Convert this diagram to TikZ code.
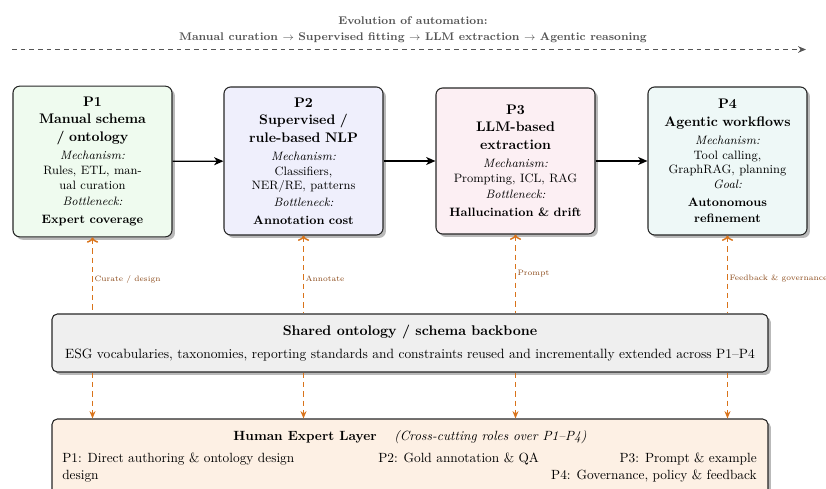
\documentclass[tikz,border=0pt]{standalone}
\usetikzlibrary{arrows.meta,shadows}

\definecolor{phaseA}{HTML}{EFFBEF}
\definecolor{phaseB}{HTML}{EFEFFC}
\definecolor{phaseC}{HTML}{FCEFF3}
\definecolor{phaseD}{HTML}{EEF8F7}
\definecolor{backbone}{HTML}{EFEFEF}
\definecolor{humanfill}{HTML}{FDF0E4}
\definecolor{humanline}{HTML}{D9731A}
\definecolor{humantext}{HTML}{8B4A1A}
\definecolor{evogray}{HTML}{555555}

% font switches used inside the phase boxes
\newcommand\ttlf{\fontsize{10.4}{13.1}\selectfont\bfseries\upshape}
\newcommand\bodyf{\fontsize{9.1}{10.9}\selectfont\mdseries\upshape}
\newcommand\mechf{\fontsize{9.1}{10.9}\selectfont\mdseries\itshape}
\newcommand\botf{\fontsize{9.1}{12}\selectfont\bfseries\upshape}

\begin{document}
\begin{tikzpicture}[x=0.75pt,y=-0.75pt,
  phasebox/.style={draw=black!85, line width=0.8pt, rounded corners=5pt,
    text width=113pt, inner xsep=3pt, inner ysep=2pt, align=center,
    minimum width=119.25pt,
    drop shadow={shadow xshift=2.2pt, shadow yshift=-2.2pt, fill=black!50, opacity=0.55}},
  layerbox/.style={draw=black!85, line width=0.8pt, rounded corners=4pt,
    minimum width=537pt,
    drop shadow={shadow xshift=2.2pt, shadow yshift=-2.2pt, fill=black!50, opacity=0.55}},
  flow/.style={-{Stealth[length=7pt,width=6pt,inset=2pt]}, line width=0.9pt, black},
  humanlink/.style={humanline, line width=1.1pt, dash pattern=on 4pt off 3pt,
    -{Stealth[length=5.5pt,width=4.5pt]}},
  rolelabel/.style={text=humantext, font=\fontsize{5.85}{7}\selectfont, anchor=west, inner sep=1pt},
  roletext/.style={font=\fontsize{10}{12}\selectfont, inner sep=0pt}]

\useasboundingbox (0,0) rectangle (826,489);

% evolution banner
\node[text=evogray, align=center, font=\fontsize{8.36}{12}\selectfont\bfseries] (evo) at (413,29.5)
  {Evolution of automation:\\
   Manual curation $\rightarrow$ Supervised fitting $\rightarrow$ LLM extraction $\rightarrow$ Agentic reasoning};
\coordinate (evoL) at (12,49.5);
\coordinate (evoR) at (806,49.5);
\draw[evogray, line width=0.8pt, dash pattern=on 3.5pt off 3pt, -{Stealth[length=6pt,width=5pt]}] (evoL) -- (evoR);

% four phases
\node[phasebox, fill=phaseA, minimum height=113pt] (p1) at (92.5,161.5)
  {\ttlf P1\\Manual schema\\/ ontology\\[3pt]
   \mechf Mechanism:\\\bodyf Rules, ETL, man-\\ual curation\\[1.5pt]
   \mechf Bottleneck:\\[1.5pt]\botf Expert coverage};
\node[phasebox, fill=phaseB, minimum height=111pt] (p2) at (303.5,161)
  {\ttlf P2\\Supervised /\\rule-based NLP\\[3pt]
   \mechf Mechanism:\\\bodyf Classifiers,\\NER/RE, patterns\\[1.5pt]
   \mechf Bottleneck:\\[1.5pt]\botf Annotation cost};
\node[phasebox, fill=phaseC, minimum height=109.5pt] (p3) at (515.5,161)
  {\ttlf P3\\LLM-based\\extraction\\[3pt]
   \mechf Mechanism:\\\bodyf Prompting, ICL, RAG\\[1.5pt]
   \mechf Bottleneck:\\[1.5pt]\botf Hallucination \& drift};
\node[phasebox, fill=phaseD, minimum height=111pt] (p4) at (727.5,161)
  {\ttlf P4\\Agentic workflows\\[3pt]
   \mechf Mechanism:\\\bodyf Tool calling,\\GraphRAG, planning\\
   \mechf Goal:\\[2pt]\botf Autonomous\\refinement};

\draw[flow] (p1) -- (p2);
\draw[flow] (p2) -- (p3);
\draw[flow] (p3) -- (p4);

% shared backbone
\node[layerbox, fill=backbone, minimum height=43.5pt, align=center] (shared) at (410,343)
  {{\fontsize{10.5}{13}\selectfont\bfseries Shared ontology / schema backbone}\\[5pt]
   {\fontsize{10.1}{11}\selectfont ESG vocabularies, taxonomies, reporting standards and constraints reused and incrementally extended across P1--P4}};

% human expert layer
\node[layerbox, fill=humanfill, minimum height=64.5pt] (human) at (410,462) {};
\node[font=\fontsize{10}{12}\selectfont, inner sep=0pt] (htitle) at (410,437)
  {\textbf{Human Expert Layer}\quad\ \textit{(Cross-cutting roles over P1--P4)}};
\node[roletext, anchor=west] (r1) at (62,459) {P1: Direct authoring \& ontology design};
\node[roletext, anchor=west] (r1b) at (62,476) {design};
\node[roletext, anchor=west] (r2) at (378,459) {P2: Gold annotation \& QA};
\node[roletext, anchor=east] (r3) at (757,459) {P3: Prompt \& example};
\node[roletext, anchor=east] (r4) at (757,476) {P4: Governance, policy \& feedback};

% human roles feeding each phase through the backbone
\draw[humanlink, <-] (p1.south) -- (p1.south |- shared.north) node[rolelabel, pos=0.55] {Curate / design};
\draw[humanlink, <-] (p2.south) -- (p2.south |- shared.north) node[rolelabel, pos=0.55] {Annotate};
\draw[humanlink, <-] (p3.south) -- (p3.south |- shared.north) node[rolelabel, pos=0.5] {Prompt};
\draw[humanlink, <-] (p4.south) -- (p4.south |- shared.north) node[rolelabel, pos=0.55] {Feedback \& governance};
\draw[humanlink] (p1.south |- shared.south) -- (p1.south |- human.north);
\draw[humanlink] (p2.south |- shared.south) -- (p2.south |- human.north);
\draw[humanlink] (p3.south |- shared.south) -- (p3.south |- human.north);
\draw[humanlink] (p4.south |- shared.south) -- (p4.south |- human.north);
\end{tikzpicture}
\end{document}
